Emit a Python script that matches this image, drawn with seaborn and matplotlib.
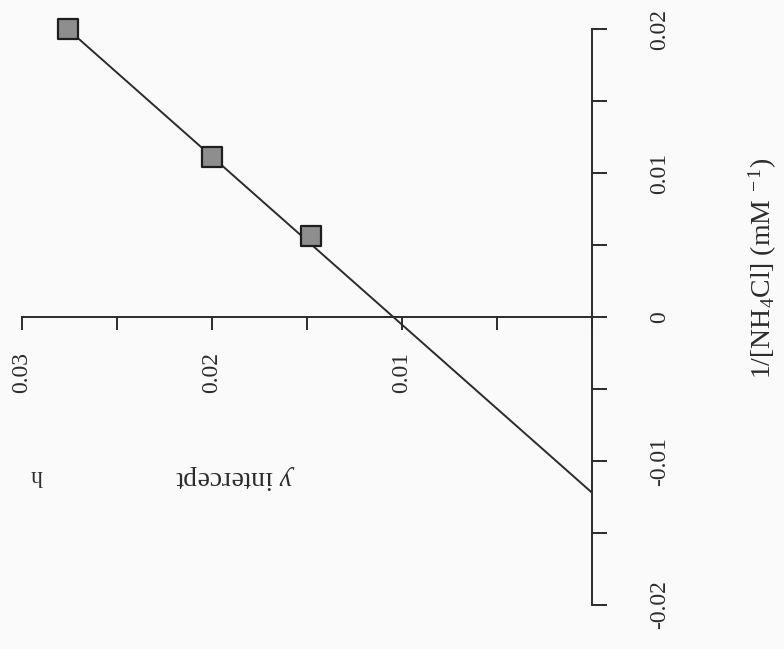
import numpy as np
import matplotlib
matplotlib.use("Agg")
import matplotlib.pyplot as plt
import seaborn as sns

# Reciprocal substrate concentration (mM^-1) and fitted y intercepts
inv_nh4cl = [0.0200, 0.0111, 0.0056]
y_intercept = [0.0276, 0.0200, 0.0148]

# Regression line, from the x intercept to the last point
fit_x = [-0.0122, 0.0200]
fit_y = [0.0, 0.0276]

x_ticks = [-0.02, -0.015, -0.01, -0.005, 0.0, 0.005, 0.01, 0.015, 0.02]
x_tick_labels = ["-0.02", "", "-0.01", "", "0", "", "0.01", "", "0.02"]
y_ticks = [0.0, 0.005, 0.01, 0.015, 0.02, 0.025, 0.03]
y_tick_labels = ["", "", "0.01", "", "0.02", "", "0.03"]

sns.set_theme(style="white")
plt.rcParams["font.family"] = ["Liberation Serif", "DejaVu Serif"]
plt.rcParams["mathtext.fontset"] = "custom"
plt.rcParams["mathtext.rm"] = "Liberation Serif"
plt.rcParams["mathtext.it"] = "Liberation Serif:italic"

ink = "#2b2b2b"
bg = "#fafafa"

fig = plt.figure(figsize=(7.84, 6.49), dpi=100, facecolor=bg)
# the page is turned a quarter turn: 1/[NH4Cl] runs upward, y intercept runs leftward
ax = fig.add_axes([22 / 784, 1 - 605 / 649, (592 - 22) / 784, (605 - 29) / 649])
ax.set_facecolor(bg)

sns.lineplot(x=fit_y, y=fit_x, sort=False, color=ink, linewidth=1.4, ax=ax)
pts = sns.scatterplot(x=y_intercept, y=inv_nh4cl, marker="s", s=200, color="#8e8e8e",
                      edgecolor="#1e1e1e", linewidth=1.6, zorder=5, ax=ax)
for coll in ax.collections:
    coll.set_clip_on(False)

ax.set_xlim(0.03, 0.0)
ax.set_ylim(-0.02, 0.02)

for side in ("top", "left"):
    ax.spines[side].set_visible(False)
ax.spines["bottom"].set_position(("data", 0.0))
for side in ("bottom", "right"):
    ax.spines[side].set_color(ink)
    ax.spines[side].set_linewidth(1.4)

ax.yaxis.tick_right()
ax.set_yticks(x_ticks)
ax.set_yticklabels(x_tick_labels, rotation=90, va="center", fontsize=17, color=ink)
ax.tick_params(axis="y", right=True, direction="out", length=11, width=1.4, color=ink, pad=30)

ax.set_xticks(y_ticks)
ax.set_xticklabels(y_tick_labels, rotation=90, ha="center", va="top", fontsize=17, color=ink)
ax.tick_params(axis="x", bottom=True, direction="out", length=9, width=1.4, color=ink, pad=16)

ax.set_xlabel("")
ax.set_ylabel("")

fig.text(763 / 784, 1 - 268 / 649, "1/[NH$_4$Cl] (mM$^{\\ -1}$)", rotation=90,
         ha="center", va="center", fontsize=20, color=ink)
fig.text(235 / 784, 1 - 477 / 649, "$\\mathit{y}$ intercept", rotation=180,
         ha="center", va="center", fontsize=20, color=ink)
fig.text(37 / 784, 1 - 476 / 649, "h", rotation=180,
         ha="center", va="center", fontsize=17, color=ink)

fig.savefig("out.png", dpi=100, facecolor=bg)
